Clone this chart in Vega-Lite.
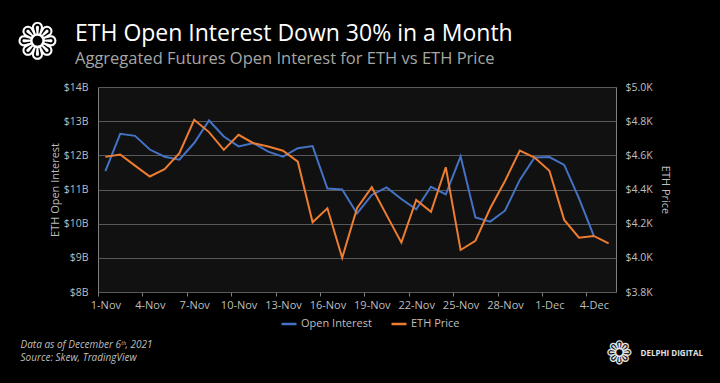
{
  "$schema": "https://vega.github.io/schema/vega-lite/v6.json",
  "width": 518,
  "height": 205,
  "autosize": {"type": "none"},
  "padding": {"left": 98, "top": 87, "right": 104, "bottom": 91},
  "background": "#000000",
  "title": {
    "text": "ETH Open Interest Down 30% in a Month",
    "subtitle": "Aggregated Futures Open Interest for ETH vs ETH Price",
    "anchor": "start",
    "frame": "group",
    "dx": -23,
    "dy": 69,
    "offset": 20,
    "font": "Open Sans",
    "fontSize": 23,
    "fontWeight": "normal",
    "color": "#ffffff",
    "subtitleFont": "Open Sans",
    "subtitleFontSize": 16.5,
    "subtitleColor": "#a6a6a6",
    "subtitlePadding": 5
  },
  "data": {
    "values": [
      {"day": "1-Nov", "oi": 11.54, "price": 4591},
      {"day": "2-Nov", "oi": 12.63, "price": 4605},
      {"day": "3-Nov", "oi": 12.57, "price": 4540},
      {"day": "4-Nov", "oi": 12.17, "price": 4476},
      {"day": "5-Nov", "oi": 11.96, "price": 4519},
      {"day": "6-Nov", "oi": 11.87, "price": 4613},
      {"day": "7-Nov", "oi": 12.36, "price": 4808},
      {"day": "8-Nov", "oi": 13.02, "price": 4736},
      {"day": "9-Nov", "oi": 12.55, "price": 4632},
      {"day": "10-Nov", "oi": 12.26, "price": 4720},
      {"day": "11-Nov", "oi": 12.36, "price": 4671},
      {"day": "12-Nov", "oi": 12.11, "price": 4652},
      {"day": "13-Nov", "oi": 11.96, "price": 4627},
      {"day": "14-Nov", "oi": 12.21, "price": 4563},
      {"day": "15-Nov", "oi": 12.27, "price": 4208},
      {"day": "16-Nov", "oi": 11.03, "price": 4290},
      {"day": "17-Nov", "oi": 11.0, "price": 4000},
      {"day": "18-Nov", "oi": 10.3, "price": 4290},
      {"day": "19-Nov", "oi": 10.84, "price": 4413},
      {"day": "20-Nov", "oi": 11.06, "price": 4250},
      {"day": "21-Nov", "oi": 10.72, "price": 4089},
      {"day": "22-Nov", "oi": 10.42, "price": 4339},
      {"day": "23-Nov", "oi": 11.08, "price": 4270},
      {"day": "24-Nov", "oi": 10.86, "price": 4530},
      {"day": "25-Nov", "oi": 11.97, "price": 4046},
      {"day": "26-Nov", "oi": 10.18, "price": 4100},
      {"day": "27-Nov", "oi": 10.06, "price": 4290},
      {"day": "28-Nov", "oi": 10.38, "price": 4450},
      {"day": "29-Nov", "oi": 11.28, "price": 4628},
      {"day": "30-Nov", "oi": 11.94, "price": 4587},
      {"day": "1-Dec", "oi": 11.95, "price": 4510},
      {"day": "2-Dec", "oi": 11.72, "price": 4222},
      {"day": "3-Dec", "oi": 10.74, "price": 4118},
      {"day": "4-Dec", "oi": 9.64, "price": 4128},
      {"day": "5-Dec", "oi": null, "price": 4085}
    ]
  },
  "encoding": {
    "x": {"field": "day", "type": "ordinal", "sort": null, "scale": {"padding": 0.5}}
  },
  "layer": [
    {
      "mark": {"type": "line", "strokeWidth": 2},
      "encoding": {
        "x": {
          "field": "day", "type": "ordinal", "sort": null,
          "axis": {
            "values": ["1-Nov", "4-Nov", "7-Nov", "10-Nov", "13-Nov", "16-Nov", "19-Nov", "22-Nov", "25-Nov", "28-Nov", "1-Dec", "4-Dec"],
            "labelAngle": 0,
            "domain": false,
            "ticks": true,
            "tickSize": 4,
            "tickColor": "#7f7f7f",
            "tickOffset": -7.4,
            "labelOffset": 7.4,
            "labelPadding": 3,
            "labelFont": "Open Sans",
            "labelFontSize": 11,
            "labelColor": "#bfbfbf",
            "grid": false,
            "title": ["Data as of December 6ᵗʰ, 2021", "Source: Skew, TradingView"],
            "titleX": -78,
            "titleY": 47,
            "titleAlign": "left",
            "titleBaseline": "top",
            "titleFont": "Open Sans",
            "titleFontSize": 10,
            "titleFontStyle": "italic",
            "titleFontWeight": "normal",
            "titleColor": "#bfbfbf",
            "titleLineHeight": 13
          }
        },
        "y": {
          "field": "oi", "type": "quantitative",
          "scale": {"domain": [8, 14]},
          "axis": {
            "values": [8, 9, 10, 11, 12, 13, 14],
            "labelExpr": "'$' + datum.value + 'B'",
            "domain": false,
            "ticks": false,
            "labelPadding": 10,
            "labelFont": "Open Sans",
            "labelFontSize": 10.5,
            "labelColor": "#bfbfbf",
            "grid": true,
            "gridColor": "#595959",
            "gridWidth": 1,
            "title": "ETH Open Interest",
            "titleFont": "Open Sans",
            "titleFontSize": 11,
            "titleFontWeight": "normal",
            "titleColor": "#bfbfbf",
            "titlePadding": 3
          }
        },
        "color": {"datum": "Open Interest"}
      }
    },
    {
      "mark": {"type": "line", "strokeWidth": 2},
      "encoding": {
        "x": {"field": "day", "type": "ordinal", "sort": null, "axis": null},
        "y": {
          "field": "price", "type": "quantitative",
          "scale": {"domain": [3800, 5000]},
          "axis": {
            "orient": "right",
            "values": [3800, 4000, 4200, 4400, 4600, 4800, 5000],
            "labelExpr": "'$' + format(datum.value / 1000, '.1f') + 'K'",
            "domain": false,
            "ticks": false,
            "labelPadding": 9,
            "labelFont": "Open Sans",
            "labelFontSize": 10.5,
            "labelColor": "#bfbfbf",
            "grid": false,
            "title": "ETH Price",
            "titleAngle": 90,
            "titleFont": "Open Sans",
            "titleFontSize": 11,
            "titleFontWeight": "normal",
            "titleColor": "#bfbfbf",
            "titlePadding": 7
          }
        },
        "color": {"datum": "ETH Price"}
      }
    },
    {
      "mark": {"type": "line", "opacity": 0},
      "encoding": {
        "x": {
          "field": "day", "type": "ordinal", "sort": null,
          "axis": {
            "orient": "top", "labels": false, "ticks": false, "domain": false, "grid": false,
            "title": "❁",
            "titleX": -61, "titleY": -44,
            "titleAlign": "center", "titleBaseline": "middle",
            "titleFont": "DejaVu Sans", "titleFontSize": 50, "titleFontWeight": "normal",
            "titleColor": "#ffffff"
          }
        },
        "y": {"field": "oi", "type": "quantitative", "axis": null}
      }
    },
    {
      "mark": {"type": "line", "opacity": 0},
      "encoding": {
        "x": {
          "field": "day", "type": "ordinal", "sort": null,
          "axis": {
            "orient": "bottom", "labels": false, "ticks": false, "domain": false, "grid": false,
            "title": "DELPHI DIGITAL",
            "titleX": 542, "titleY": 61,
            "titleAlign": "left", "titleBaseline": "middle",
            "titleFont": "Open Sans", "titleFontSize": 8, "titleFontWeight": "bold",
            "titleColor": "#e0e0e0"
          }
        },
        "y": {"field": "oi", "type": "quantitative", "axis": null}
      }
    },
    {
      "mark": {"type": "line", "opacity": 0},
      "encoding": {
        "x": {
          "field": "day", "type": "ordinal", "sort": null,
          "axis": {
            "orient": "bottom", "labels": false, "ticks": false, "domain": false, "grid": false,
            "title": "❁",
            "titleX": 521, "titleY": 61,
            "titleAlign": "center", "titleBaseline": "middle",
            "titleFont": "DejaVu Sans", "titleFontSize": 32, "titleFontWeight": "normal",
            "titleColor": "#e0e0e0"
          }
        },
        "y": {"field": "oi", "type": "quantitative", "axis": null}
      }
    }
  ],
  "resolve": {"scale": {"y": "independent"}, "axis": {"x": "independent"}},
  "config": {
    "view": {"fill": "#111111", "stroke": "#7f7f7f", "strokeWidth": 1},
    "range": {"category": ["#4472C4", "#ED7D31"]},
    "legend": {
      "orient": "none",
      "legendX": 182,
      "legendY": 228,
      "direction": "horizontal",
      "title": null,
      "symbolType": "stroke",
      "symbolStrokeWidth": 2.5,
      "symbolSize": 225,
      "labelFont": "Open Sans",
      "labelFontSize": 11,
      "labelColor": "#bfbfbf",
      "columnPadding": 14,
      "labelOffset": 3
    }
  }
}
